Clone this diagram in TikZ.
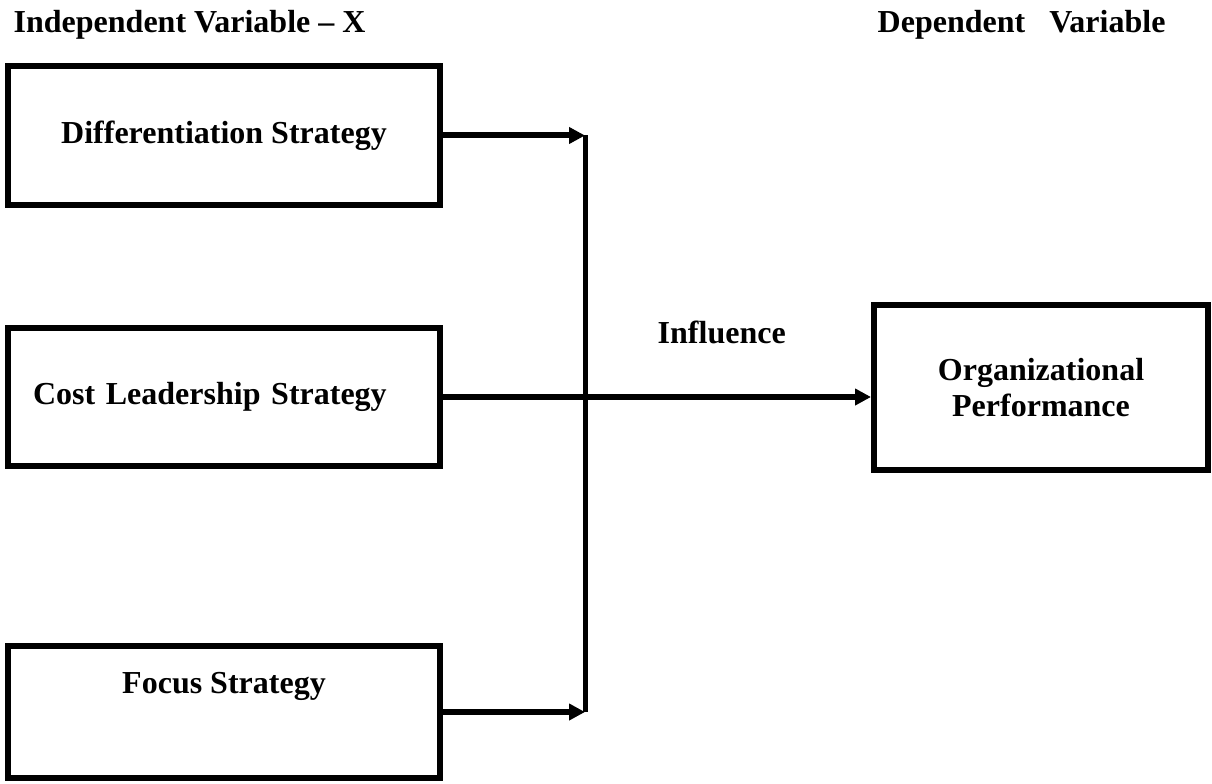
\documentclass[tikz,border=0pt]{standalone}
\usepackage{fontspec}
\setmainfont{Liberation Serif}
\usetikzlibrary{arrows.meta}
\tikzset{>={Triangle[length=12pt,width=12pt]}}

\begin{document}
\begin{tikzpicture}[x=0.75pt,y=-0.75pt,
    every node/.style={font=\bfseries\fontsize{24}{27}\selectfont},
    box/.style={draw,line width=4.5pt,minimum width=324pt,align=center},
    link/.style={->,line width=4.5pt}]
        \useasboundingbox (0,0) rectangle (1212,784);
        \node [anchor=base west] (indep) at (9,33) {Independent Variable -- X};
        \node [anchor=base west] (dep) at (873,33) {Dependent~~~Variable};
        \node [box,minimum height=104pt] (diff) at (224,135.5) {Differentiation Strategy};
        \node [box,minimum height=103.5pt,align=left,text width=286.5pt,inner xsep=18.75pt] (cost) at (224,397) {Cost Leadership Strategy};
        \node [box,minimum height=99pt,text depth=43.5pt] (focus) at (224,712) {Focus Strategy};
        \node [box,minimum width=250.5pt,minimum height=124pt] (org) at (1041,387.5) {Organizational\\Performance};
        \node [anchor=base west] (infl) at (653,343) {Influence};
        \coordinate (T) at (585,135.5);
        \coordinate (B) at (585,712);
        \draw [line width=3.75pt] (T) -- (B);
        \draw [link] (diff) -- (T);
        \draw [link] (focus) -- (B);
        \draw [link] (cost) -- (cost -| org.west);
        %\node [below] at (B) {};
      \end{tikzpicture}
\end{document}
